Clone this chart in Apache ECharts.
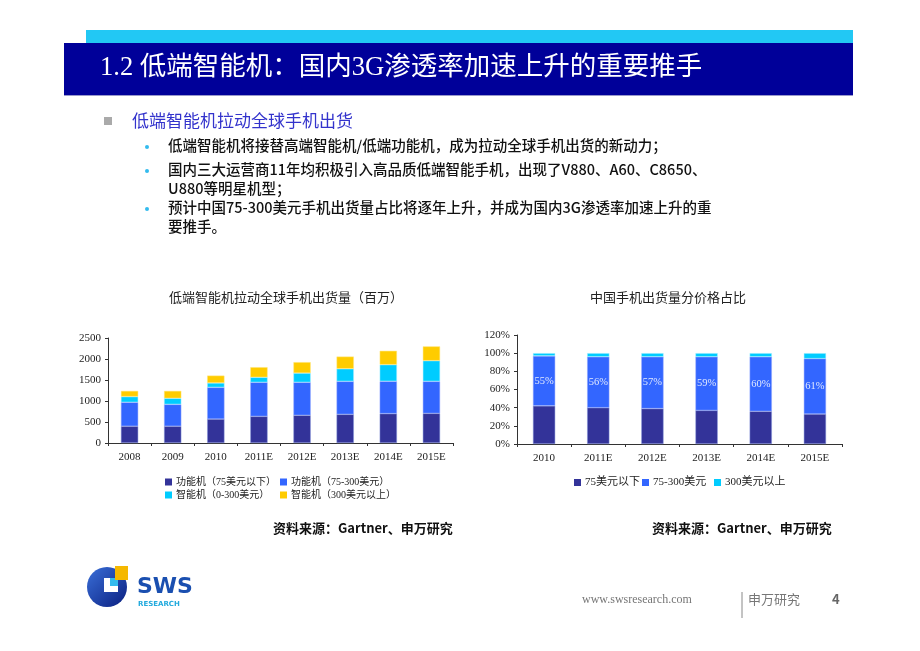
<!DOCTYPE html>
<html><head><meta charset="utf-8">
<script src="https://cdn.jsdelivr.net/npm/echarts@6/dist/echarts.min.js"></script>
<style>html,body{margin:0;padding:0;background:#fff}#c{width:920px;height:651px}</style>
</head><body><div id="c"></div>
<script>
// ---- data ----
const categoriesLeft = ['2008','2009','2010','2011E','2012E','2013E','2014E','2015E'];
const featureLow  = [400, 400, 570, 635, 660, 683, 700, 706];
const featureMid  = [570, 520, 755, 810, 785, 785, 770, 762];
const smartLow    = [135, 145, 105, 120, 220, 300, 395, 492];
const smartHigh   = [135, 175, 175, 240, 260, 290, 330, 340];
const leftTicks = {min: 0, max: 2500, interval: 500};

const categoriesRight = ['2010','2011E','2012E','2013E','2014E','2015E'];
const shareLow  = [42, 40, 39, 37, 36, 33];
const shareMid  = [55, 56, 57, 59, 60, 61];
const shareHigh = [3, 4, 4, 4, 4, 6];
const rightTicks = {min: 0, max: 120, interval: 20};

const namesLeft = ['功能机（75美元以下）','功能机（75-300美元）','智能机（0-300美元）','智能机（300美元以上）'];
const namesRight = ['75美元以下','75-300美元','300美元以上'];

const C_DARK = '#333399', C_BLUE = '#3366ff', C_CYAN = '#00ccff', C_GOLD = '#ffcc00';
const SERIF = '"Liberation Serif","Noto Sans CJK SC",serif';
const SANS = '"Noto Sans CJK SC","Noto Sans",sans-serif';

const chart = echarts.init(document.getElementById('c'), null, {renderer: 'canvas'});

const axisCommon = {
  axisLine: {lineStyle: {color: '#333', width: 1}},
  axisLabel: {color: '#222', fontFamily: SERIF, fontSize: 11},
  splitLine: {show: false}
};

function legendItem(name, left, top, fs) {
  return {data: [name], left: left, top: top, itemWidth: 7, itemHeight: 7, itemGap: 0,
    padding: 0, icon: 'rect', selectedMode: false,
    itemStyle: {borderWidth: 0},
    textStyle: {fontFamily: SERIF, fontSize: fs || 10, color: '#222', padding: [0,0,0,-1]}};
}

const option = {
  animation: false,
  backgroundColor: '#fff',
  grid: [
    {left: 108, top: 338, width: 345, height: 105},
    {left: 517, top: 335, width: 325, height: 109}
  ],
  xAxis: [
    Object.assign({}, axisCommon, {type: 'category', gridIndex: 0, data: categoriesLeft,
      axisTick: {show: true, alignWithLabel: false, length: 3, lineStyle: {color: '#333'}},
      axisLabel: Object.assign({}, axisCommon.axisLabel, {margin: 9})}),
    Object.assign({}, axisCommon, {type: 'category', gridIndex: 1, data: categoriesRight,
      axisTick: {show: true, alignWithLabel: false, length: 3, lineStyle: {color: '#333'}},
      axisLabel: Object.assign({}, axisCommon.axisLabel, {margin: 9})})
  ],
  yAxis: [
    Object.assign({}, axisCommon, {type: 'value', gridIndex: 0, min: leftTicks.min, max: leftTicks.max, interval: leftTicks.interval,
      axisLine: {show: true, lineStyle: {color: '#333'}},
      axisTick: {show: true, length: 3, lineStyle: {color: '#333'}},
      axisLabel: Object.assign({}, axisCommon.axisLabel, {margin: 7, formatter: function (v) { return String(v); }})}),
    Object.assign({}, axisCommon, {type: 'value', gridIndex: 1, min: rightTicks.min, max: rightTicks.max, interval: rightTicks.interval,
      axisLine: {show: true, lineStyle: {color: '#333'}},
      axisTick: {show: true, length: 3, lineStyle: {color: '#333'}},
      axisLabel: Object.assign({}, axisCommon.axisLabel, {margin: 7, formatter: '{value}%'})})
  ],
  legend: [
    legendItem(namesLeft[0], 165, 477),
    legendItem(namesLeft[1], 280, 477),
    legendItem(namesLeft[2], 165, 490),
    legendItem(namesLeft[3], 280, 490),
    legendItem(namesRight[0], 574, 477, 11),
    legendItem(namesRight[1], 642, 477, 11),
    legendItem(namesRight[2], 714, 477, 11)
  ],
  series: [
    {name: namesLeft[0], type: 'bar', stack: 'L', xAxisIndex: 0, yAxisIndex: 0, data: featureLow, barWidth: '40%',
      itemStyle: {color: C_DARK, borderColor: '#8899dd', borderWidth: 0.5}},
    {name: namesLeft[1], type: 'bar', stack: 'L', xAxisIndex: 0, yAxisIndex: 0, data: featureMid, barWidth: '40%',
      itemStyle: {color: C_BLUE, borderColor: '#99aaff', borderWidth: 0.5}},
    {name: namesLeft[2], type: 'bar', stack: 'L', xAxisIndex: 0, yAxisIndex: 0, data: smartLow, barWidth: '40%',
      itemStyle: {color: C_CYAN, borderColor: '#aaeeff', borderWidth: 0.5}},
    {name: namesLeft[3], type: 'bar', stack: 'L', xAxisIndex: 0, yAxisIndex: 0, data: smartHigh, barWidth: '40%',
      itemStyle: {color: C_GOLD, borderColor: '#ffe680', borderWidth: 0.5}},
    {name: namesRight[0], type: 'bar', stack: 'R', xAxisIndex: 1, yAxisIndex: 1, data: shareLow, barWidth: '41%',
      itemStyle: {color: C_DARK, borderColor: '#8899dd', borderWidth: 0.5}},
    {name: namesRight[1], type: 'bar', stack: 'R', xAxisIndex: 1, yAxisIndex: 1, data: shareMid, barWidth: '41%',
      itemStyle: {color: C_BLUE, borderColor: '#99aaff', borderWidth: 0.5},
      label: {show: true, position: 'inside', align: 'center', verticalAlign: 'middle', formatter: '{c}%',
        color: '#e0e8ff', fontFamily: SERIF, fontSize: 10.5}},
    {name: namesRight[2], type: 'bar', stack: 'R', xAxisIndex: 1, yAxisIndex: 1, data: shareHigh, barWidth: '41%',
      itemStyle: {color: C_CYAN, borderColor: '#aaeeff', borderWidth: 0.5}}
  ],
  graphic: [
    // header
    {type: 'rect', shape: {x: 86, y: 30, width: 767, height: 13}, style: {fill: '#22c8f4'}, silent: true},
    {type: 'rect', shape: {x: 64, y: 43, width: 789, height: 52}, style: {fill: '#000099'}, silent: true},
    {type: 'rect', shape: {x: 64, y: 95, width: 789, height: 1}, style: {fill: '#9999cc'}, silent: true},
    {type: 'text', left: 100, top: 55, silent: true,
      style: {text: '1.2 低端智能机：国内3G渗透率加速上升的重要推手', fill: '#ffffff', font: '26.5px ' + SERIF}},
    // bullets
    {type: 'rect', shape: {x: 104, y: 117, width: 8, height: 8}, style: {fill: '#aaaaaa'}, silent: true},
    {type: 'text', left: 132, top: 112, silent: true,
      style: {text: '低端智能机拉动全球手机出货', fill: '#3333cc', font: '17px ' + SANS}},
    {type: 'circle', shape: {cx: 147, cy: 147, r: 2}, style: {fill: '#33bbee'}, silent: true},
    {type: 'circle', shape: {cx: 147, cy: 171, r: 2}, style: {fill: '#33bbee'}, silent: true},
    {type: 'circle', shape: {cx: 147, cy: 209, r: 2}, style: {fill: '#33bbee'}, silent: true},
    {type: 'text', left: 168, top: 138, silent: true,
      style: {text: '低端智能机将接替高端智能机/低端功能机，成为拉动全球手机出货的新动力；', fill: '#111', font: '500 14.5px ' + SANS}},
    {type: 'text', left: 168, top: 162, silent: true,
      style: {text: '国内三大运营商11年均积极引入高品质低端智能手机，出现了V880、A60、C8650、', fill: '#111', font: '500 14.5px ' + SANS}},
    {type: 'text', left: 168, top: 181, silent: true,
      style: {text: 'U880等明星机型；', fill: '#111', font: '500 14.5px ' + SANS}},
    {type: 'text', left: 168, top: 200, silent: true,
      style: {text: '预计中国75-300美元手机出货量占比将逐年上升，并成为国内3G渗透率加速上升的重', fill: '#111', font: '500 14.5px ' + SANS}},
    {type: 'text', left: 168, top: 219, silent: true,
      style: {text: '要推手。', fill: '#111', font: '500 14.5px ' + SANS}},
    // chart titles
    {type: 'text', left: 169, top: 292, silent: true,
      style: {text: '低端智能机拉动全球手机出货量（百万）', fill: '#222', font: '13px ' + SERIF}},
    {type: 'text', left: 590, top: 292, silent: true,
      style: {text: '中国手机出货量分价格占比', fill: '#222', font: '13px ' + SERIF}},
    // sources
    {type: 'text', left: 273, top: 522, silent: true,
      style: {text: '资料来源：Gartner、申万研究', fill: '#111', font: 'bold 13px ' + SANS}},
    {type: 'text', left: 652, top: 522, silent: true,
      style: {text: '资料来源：Gartner、申万研究', fill: '#111', font: 'bold 13px ' + SANS}},
    // footer logo
    {type: 'circle', shape: {cx: 107, cy: 587, r: 20}, silent: true,
      style: {fill: new echarts.graphic.LinearGradient(0, 0, 1, 1, [{offset: 0, color: '#3a6fd8'}, {offset: 1, color: '#0a1f80'}])}},
    {type: 'rect', shape: {x: 104, y: 578, width: 14, height: 14}, style: {fill: '#ffffff'}, silent: true},
    {type: 'rect', shape: {x: 110, y: 578, width: 8, height: 8}, style: {fill: '#33bbee'}, silent: true},
    {type: 'rect', shape: {x: 115, y: 566, width: 13, height: 14}, style: {fill: '#f5b800'}, silent: true},
    {type: 'text', left: 137, top: 576, silent: true,
      style: {text: 'SWS', fill: '#1a4fb0', font: 'bold 22px "DejaVu Sans",sans-serif'}},
    {type: 'text', left: 138, top: 601, silent: true,
      style: {text: 'RESEARCH', fill: '#22aadd', font: 'bold 7px "DejaVu Sans",sans-serif'}},
    // footer text
    {type: 'text', left: 582, top: 594, silent: true,
      style: {text: 'www.swsresearch.com', fill: '#777', font: '12px ' + SERIF}},
    {type: 'line', shape: {x1: 742, y1: 592, x2: 742, y2: 618}, style: {stroke: '#888', lineWidth: 1}, silent: true},
    {type: 'text', left: 748, top: 593, silent: true,
      style: {text: '申万研究', fill: '#777', font: '13px ' + SANS}},
    {type: 'text', left: 832, top: 593, silent: true,
      style: {text: '4', fill: '#666', font: 'bold 13px ' + SANS}}
  ]
};
chart.setOption(option);
</script>
</body></html>
